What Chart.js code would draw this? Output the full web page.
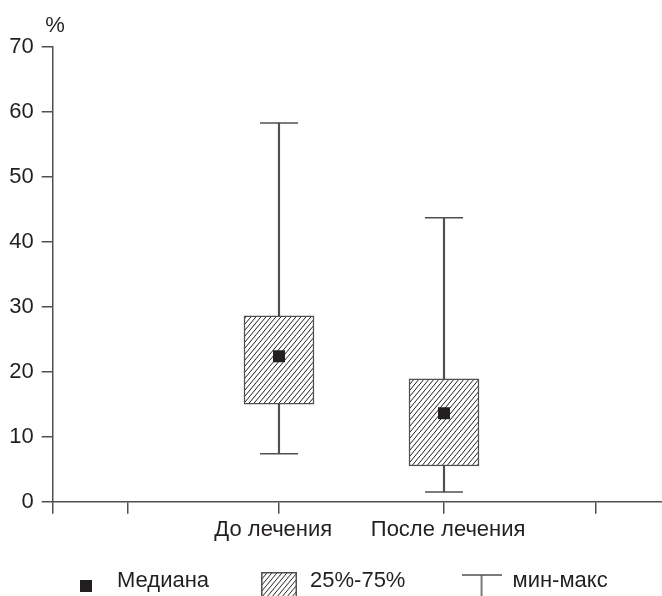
<!DOCTYPE html>
<html>
<head>
<meta charset="utf-8">
<script src="https://cdn.jsdelivr.net/npm/chart.js@4.4.1/dist/chart.umd.min.js"></script>
<style>
html,body{margin:0;padding:0;background:#fff;}
#wrap{width:662px;height:596px;}
</style>
</head>
<body>
<div id="wrap"><canvas id="c" width="662" height="596"></canvas></div>
<script>
// ---- data ----
const categories = ['До лечения', 'После лечения'];
const categoryX = [37.14, 64.22];           // category positions on the x scale (0..100)
const labelX = [36.2, 64.9];                // where category labels sit
const axisTickX = [0, 12.24, 37.14, 64.22, 89.12];
const minValues = [7.4, 1.5];
const q1Values = [15.0, 5.5];
const medianValues = [22.4, 13.6];
const q3Values = [28.6, 18.9];
const maxValues = [58.3, 43.7];
const yTicks = [0, 10, 20, 30, 40, 50, 60, 70];
const legendLabels = ['Медиана', '25%-75%', 'мин-макс'];
const unitLabel = '%';

// ---- styles ----
const TEXT = '#231f20';
const LINE = '#505050';
const FONT = {family: '"Liberation Sans", Arial, sans-serif', size: 22};

const canvas = document.getElementById('c');
const mainCtx = canvas.getContext('2d');

function makeHatch(ctx) {
  const t = document.createElement('canvas');
  t.width = 5; t.height = 6;
  const g = t.getContext('2d');
  g.fillStyle = '#fff';
  g.fillRect(0, 0, 5, 6);
  g.strokeStyle = TEXT;
  g.lineWidth = 1;
  g.beginPath();
  for (let k = -1; k <= 1; k++) { g.moveTo(k * 5, 6); g.lineTo(k * 5 + 5, 0); }
  g.stroke();
  return ctx.createPattern(t, 'repeat');
}
const hatch = makeHatch(mainCtx);

// legend icons
function iconMedian() {
  const c = document.createElement('canvas'); c.width = 12; c.height = 40;
  const g = c.getContext('2d'); g.fillStyle = TEXT; g.fillRect(0, 19, 12, 12); return c;
}
function iconBox() {
  const c = document.createElement('canvas'); c.width = 36; c.height = 50;
  const g = c.getContext('2d');
  g.fillStyle = makeHatch(g); g.fillRect(1, 16, 34, 40);
  g.strokeStyle = LINE; g.lineWidth = 1.5; g.strokeRect(0.75, 16.75, 34.5, 40);
  return c;
}
function iconWhisker() {
  const c = document.createElement('canvas'); c.width = 40; c.height = 50;
  const g = c.getContext('2d'); g.strokeStyle = LINE; g.lineWidth = 1.5;
  g.beginPath(); g.moveTo(0, 19); g.lineTo(40, 19); g.moveTo(20, 19); g.lineTo(20, 50); g.stroke();
  return c;
}
const legendIcons = [iconMedian(), iconBox(), iconWhisker()];
const legendGap = [6, 7, 0];   // spacing after each legend entry (in spaces)
const legendTexts = legendLabels.map((t, i) => t + ' '.repeat(legendGap[i]));

const unitPlugin = {
  id: 'unitLabel',
  afterDraw(chart) {
    const s = chart.scales.y;
    const ctx = chart.ctx;
    ctx.save();
    ctx.font = FONT.size + 'px ' + FONT.family;
    ctx.fillStyle = TEXT;
    ctx.textAlign = 'center';
    ctx.textBaseline = 'middle';
    ctx.fillText(unitLabel, s.right + 2.3, s.top - 21.5);
    ctx.restore();
  }
};

new Chart(canvas, {
  type: 'bar',
  data: {
    datasets: [
      {
        type: 'bar', label: 'range', xAxisID: 'x', yAxisID: 'y',
        data: categories.map((c, i) => ({x: categoryX[i], y: [minValues[i], maxValues[i]]})),
        backgroundColor: LINE, borderWidth: 0, barThickness: 1.5, grouped: false, order: 4
      },
      {
        type: 'bar', label: 'iqr', xAxisID: 'x', yAxisID: 'y',
        data: categories.map((c, i) => ({x: categoryX[i], y: [q1Values[i], q3Values[i]]})),
        backgroundColor: hatch, borderColor: LINE, borderWidth: 1.5, borderSkipped: false,
        barThickness: 70, grouped: false, order: 3
      },
      {
        type: 'scatter', label: 'caps', xAxisID: 'x', yAxisID: 'y',
        data: categories.flatMap((c, i) => [{x: categoryX[i], y: maxValues[i]}, {x: categoryX[i], y: minValues[i]}]),
        pointStyle: 'line', pointRadius: 19, pointHoverRadius: 19,
        pointBorderColor: LINE, pointBorderWidth: 1.5, pointBackgroundColor: LINE, order: 2, clip: false
      },
      {
        type: 'scatter', label: 'median', xAxisID: 'x', yAxisID: 'y',
        data: categories.map((c, i) => ({x: categoryX[i], y: medianValues[i]})),
        pointStyle: 'rect', pointRadius: 8.5, pointHoverRadius: 8.5,
        pointBackgroundColor: TEXT, pointBorderWidth: 0, order: 1
      }
    ]
  },
  options: {
    responsive: false,
    animation: false,
    events: [],
    layout: {autoPadding: false, padding: {left: 0, right: 0, top: 47, bottom: 0}},
    scales: {
      x: {
        type: 'linear', axis: 'x', position: 'bottom', min: 0, max: 100, offset: false,
        afterBuildTicks: s => { s.ticks = axisTickX.map(v => ({value: v})); },
        afterFit: s => { s.height = 12; s.paddingLeft = 0; s.paddingRight = 0; },
        grid: {display: true, offset: false, drawOnChartArea: false, drawTicks: true, tickLength: 12, color: LINE, lineWidth: 1.5},
        border: {display: true, color: LINE, width: 1.5},
        ticks: {display: false}
      },
      xLab: {
        type: 'linear', axis: 'x', position: 'bottom', min: 0, max: 100, offset: false, weight: 1,
        afterBuildTicks: s => { s.ticks = labelX.map(v => ({value: v})); },
        afterFit: s => { s.height = 43; s.paddingLeft = 0; s.paddingRight = 0; },
        grid: {display: false, drawTicks: false, tickLength: 0},
        border: {display: false},
        ticks: {
          padding: 3.3, color: TEXT, font: FONT, maxRotation: 0, autoSkip: false,
          callback: (v) => { const i = labelX.indexOf(v); return i >= 0 ? categories[i] : ''; }
        }
      },
      y: {
        type: 'linear', position: 'left', min: 0, max: 70,
        afterBuildTicks: s => { s.ticks = yTicks.map(v => ({value: v})); },
        afterFit: s => { s.width = 52.7; },
        grid: {display: true, drawOnChartArea: false, drawTicks: true, tickLength: 11, color: LINE, lineWidth: 1.5},
        border: {display: true, color: LINE, width: 1.5},
        ticks: {padding: 8, color: TEXT, font: FONT}
      }
    },
    plugins: {
      tooltip: {enabled: false},
      title: {display: false},
      legend: {
        display: true, position: 'bottom', align: 'start', fullSize: false, maxHeight: 39.3,
        labels: {
          usePointStyle: true, pointStyleWidth: 40, padding: 13.3, color: TEXT, font: FONT,
          generateLabels: () => legendTexts.map((t, i) => ({
            text: t, pointStyle: legendIcons[i], fillStyle: 'rgba(0,0,0,0)',
            strokeStyle: 'rgba(0,0,0,0)', lineWidth: 0, hidden: false, fontColor: TEXT
          }))
        }
      }
    }
  },
  plugins: [unitPlugin]
});
</script>
</body>
</html>
